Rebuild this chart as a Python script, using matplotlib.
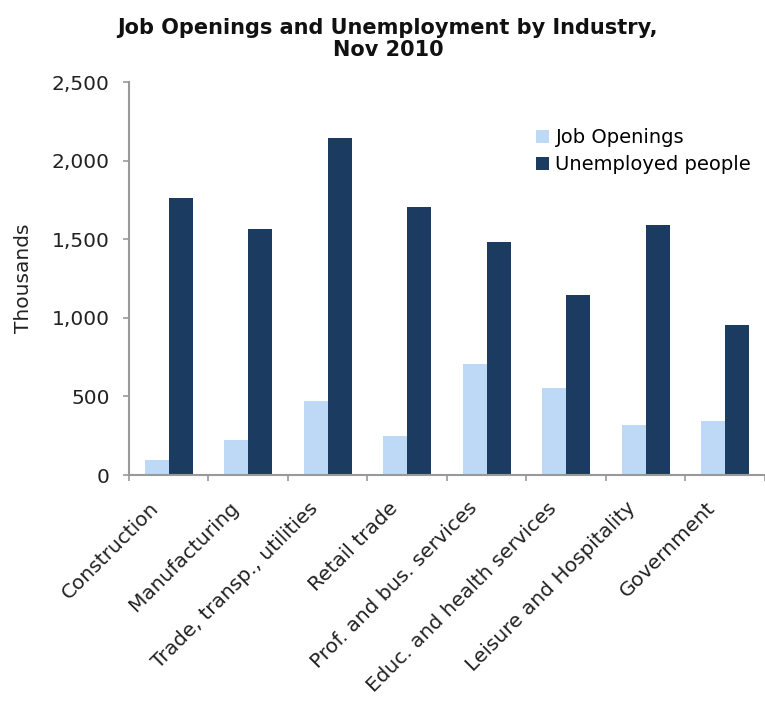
import numpy as np
import matplotlib
matplotlib.use("Agg")
import matplotlib.pyplot as plt
import matplotlib.transforms as mtransforms
from matplotlib.ticker import FuncFormatter

# values (thousands)
industries = ["Construction", "Manufacturing", "Trade, transp., utilities",
              "Retail trade", "Prof. and bus. services",
              "Educ. and health services", "Leisure and Hospitality",
              "Government"]
job_openings = [94, 224, 470, 247, 707, 553, 318, 342]
unemployed = [1765, 1566, 2143, 1705, 1483, 1143, 1590, 953]

light = "#BDD9F5"
dark = "#1B3B60"
grey = "#999999"
txt = "#222222"

fig = plt.figure(figsize=(7.65, 7.05), dpi=100)
ax = fig.add_axes([0.1686, 0.3262, 0.8314, 0.5574])

x = np.arange(len(industries))
w = 0.3
ax.bar(x - w/2, job_openings, w, color=light, label="Job Openings")
ax.bar(x + w/2, unemployed, w, color=dark, label="Unemployed people")

ax.set_ylim(0, 2500)
ax.set_xlim(-0.5, 7.4)
ax.set_yticks([0, 500, 1000, 1500, 2000, 2500])
ax.yaxis.set_major_formatter(FuncFormatter(lambda v, p: f"{int(v):,}"))

# labels at group centres, tick marks between groups
ax.set_xticks(x)
ax.set_xticklabels(industries, rotation=45, ha="right", va="top", fontsize=14.5, color=txt)
ax.tick_params(axis="x", which="major", length=0, pad=17)
shift = mtransforms.ScaledTranslation(-6/100, 0, fig.dpi_scale_trans)
for lab in ax.get_xticklabels():
    lab.set_transform(lab.get_transform() + shift)
ax.set_xticks(np.arange(-0.5, 8, 1), minor=True)
ax.tick_params(axis="x", which="minor", length=4, color=grey, width=1.2)
ax.tick_params(axis="y", length=4, color=grey, width=1.2, labelsize=14.5, labelcolor=txt, pad=10)

for s in ["top", "right"]:
    ax.spines[s].set_visible(False)
for s in ["left", "bottom"]:
    ax.spines[s].set_color(grey)
    ax.spines[s].set_linewidth(1.5)

ax.set_ylabel("Thousands", fontsize=14.5, color=txt, labelpad=13)

fig.suptitle("Job Openings and Unemployment by Industry,\nNov 2010",
             x=0.507, y=0.974, fontsize=15, fontweight="bold", color="#111111",
             linespacing=1.1)

ax.legend(loc="upper left", bbox_to_anchor=(0.64, 0.882), frameon=False,
          fontsize=14, handlelength=0.65, handleheight=0.65, handletextpad=0.35,
          labelspacing=0.4, borderaxespad=0, borderpad=0)

fig.savefig("out.png", dpi=100)
